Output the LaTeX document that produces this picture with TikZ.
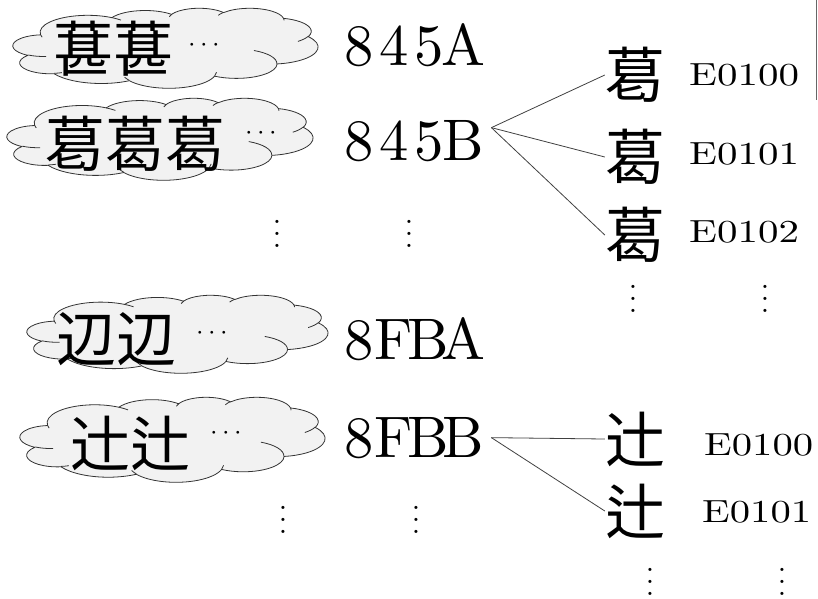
\documentclass[tikz,border=0pt]{standalone}
\usepackage{fontspec}
\usepackage{graphicx}
\newfontfamily\cjk{Noto Sans CJK JP}
\newfontfamily\lmten{lmroman10-regular.otf}
\newcommand{\cdotsx}[1]{\raisebox{#1}{\scalebox{2.7}{\fontsize{10}{12}\selectfont$\cdots$}}}
% fixed-width characters (the reference's Latin is near-monospaced)
\def\fixwidth{35pt}
\def\fw#1{\ifx#1\relax\else\makebox[\fixwidth][c]{#1}\expandafter\fw\fi}
\newcommand\fwtext[2]{{\def\fixwidth{#1}\fw#2\relax}}
% arc of the office cloud outline (visual angles converted to parametric)
\newcommand\oarc[4]{%
 \pgfextra{%
  \pgfmathparse{atan2((#1)*sin(#3),(#2)*cos(#3))}\xdef\oaS{\pgfmathresult}%
  \pgfmathparse{atan2((#1)*sin((#3)+(#4)),(#2)*cos((#3)+(#4)))}\xdef\oaE{\pgfmathresult}%
  \pgfmathparse{(#4)>0 ? (\oaE<\oaS ? \oaE+360 : \oaE) : (\oaE>\oaS ? \oaE-360 : \oaE)}\xdef\oaE{\pgfmathresult}%
 } arc[start angle=\oaS, end angle=\oaE, x radius=#1, y radius=#2]}
\newcommand\cloudoutline{(39,143.7)
 \oarc{67.53}{91.90}{-190.4875}{123.7805}
 \oarc{53.33}{72.67}{-144.1024}{89.9452}
 \oarc{43.65}{59.45}{-145.8079}{99.7230}
 \oarc{48.57}{65.95}{-130.9861}{117.2417}
 \oarc{53.33}{72.73}{-78.7089}{109.0269}
 \oarc{67.75}{92.20}{-46.2673}{130.2690}
 \oarc{57.85}{78.67}{0.6250}{114.0333}
 \oarc{67.52}{92.15}{22.4516}{115.1726}
 \oarc{77.20}{105.43}{66.2426}{75.7110}
 \oarc{43.60}{59.18}{-274.9421}{146.7356}
 \oarc{43.45}{59.45}{-246.8285}{152.5189} -- cycle}
\newcommand\cloudinner{
 (46.93,261.77) \oarc{43.45}{59.45}{86.7420}{26.4295}
 (69.28,348.99) \oarc{43.60}{59.18}{73.6105}{11.4475}
 (164.78,390.90) \oarc{67.52}{92.15}{137.6242}{14.0811}
 (288.27,347.51) \oarc{67.52}{92.15}{6.4533}{15.9984}
 (341.29,229.54) \oarc{57.85}{78.67}{-70.2924}{70.9174}
 (417.98,153.54) \oarc{53.33}{72.73}{30.3180}{27.7515}
 (383.24,54.26) \oarc{48.57}{65.95}{-13.7443}{14.8589}
 (290.78,39.52) \oarc{48.57}{65.95}{-149.1815}{18.1954}
 (221.41,47.20) \oarc{43.65}{59.45}{-163.4943}{17.6864}
 (140.00,51.92) \oarc{67.53}{91.90}{-66.7070}{12.3194}
 (41.27,157.89) \oarc{67.53}{91.90}{157.6544}{11.8582}}
\tikzset{
  cloudline/.style={draw=black!80, line width=0.8pt, line join=round},
  cloudfill/.style={cloudline, fill=black!5},
  cloudat/.style n args={4}{shift={(#1,#2)}, x=#3pt/432, y=-#4pt/432},
  cloudtxt/.style={anchor=base west, inner sep=0pt, font=\fontsize{60}{60}\cjk},
  hexlab/.style={anchor=base west, inner sep=0pt, font=\fontsize{58.6}{60}\lmten},
  kanji/.style={anchor=center, inner sep=0pt, font=\fontsize{60}{60}\cjk},
  varlab/.style={anchor=base west, inner sep=0pt, font=\fontsize{32}{34}\lmten},
  conn/.style={draw=black!75, line width=0.8pt},
  vd/.style={anchor=base, inner sep=0pt},
}
\begin{document}
\begin{tikzpicture}[x=1pt, y=-1pt]
\useasboundingbox (0,0) rectangle (818,598);
% clouds
\begin{scope}[cloudat={13}{8}{305}{80}]
  \path[cloudfill] \cloudoutline; \path[cloudline] \cloudinner;
\end{scope}
\begin{scope}[cloudat={7}{98}{306}{82}]
  \path[cloudfill] \cloudoutline; \path[cloudline] \cloudinner;
\end{scope}
\begin{scope}[cloudat={27}{295}{301}{78}]
  \path[cloudfill] \cloudoutline; \path[cloudline] \cloudinner;
\end{scope}
\begin{scope}[cloudat={20}{397}{305}{85}]
  \path[cloudfill] \cloudoutline; \path[cloudline] \cloudinner;
\end{scope}
\node[cloudtxt] (t1) at (53,71) {葚葚\hspace{15pt}\cdotsx{19.25pt}};
\node[cloudtxt] (t2) at (45,166) {葛^^^^^^0e0100葛^^^^^^0e0101葛^^^^^^0e0102\hspace{20pt}\cdotsx{26.25pt}};
\node[cloudtxt] (t3) at (56,361) {辺辺\hspace{20pt}\cdotsx{21.25pt}};
\node[cloudtxt] (t4) at (70,466) {辻^^^^^^0e0100辻^^^^^^0e0101\hspace{20pt}\cdotsx{26.25pt}};
% hex labels
\node[hexlab] (h1) at (341,65) {\fwtext{35pt}{845A}};
\node[hexlab] (h2) at (341,160) {\fwtext{35pt}{845B}};
\node[hexlab] (h3) at (341,359) {\fwtext{35pt}{8FBA}};
\node[hexlab] (h4) at (341,457) {\fwtext{35pt}{8FBB}};
% variants
\node[kanji] (k1) at (635,75) {葛^^^^^^0e0100};
\node[kanji] (k2) at (635,157) {葛^^^^^^0e0101};
\node[kanji] (k3) at (635,235) {葛^^^^^^0e0102};
\node[kanji] (k4) at (635,439) {辻^^^^^^0e0100};
\node[kanji] (k5) at (635,511) {辻^^^^^^0e0101};
\node[varlab] (v1) at (689,85) {\scalebox{1.28}[1]{E0100}};
\node[varlab] (v2) at (689,164) {\scalebox{1.28}[1]{E0101}};
\node[varlab] (v3) at (689,242) {\scalebox{1.28}[1]{E0102}};
\node[varlab] (v4) at (704,455) {\scalebox{1.27}[1]{E0100}};
\node[varlab] (v5) at (702,522) {\scalebox{1.27}[1]{E0101}};
% connectors
\draw[conn] ([xshift=10pt,yshift=13pt]h2.east) -- (k1.west);
\draw[conn] ([xshift=10pt,yshift=13pt]h2.east) -- (k2.west);
\draw[conn] ([xshift=10pt,yshift=13pt]h2.east) -- (k3.west);
\draw[conn] ([xshift=10pt]h4.east) -- (k4.west);
\draw[conn] ([xshift=10pt]h4.east) -- (k5.west);
% vertical dots
\node[vd] (d1) at (277,247.6) {\scalebox{3}{$\vdots$}};
\node[vd] (d2) at (409,247.6) {\scalebox{3}{$\vdots$}};
\node[vd] (d3) at (633,312.6) {\scalebox{3}{$\vdots$}};
\node[vd] (d4) at (765,312.6) {\scalebox{3}{$\vdots$}};
\node[vd] (d5) at (283,533.6) {\scalebox{3}{$\vdots$}};
\node[vd] (d6) at (416,533.6) {\scalebox{3}{$\vdots$}};
\node[vd] (d7) at (650,595.6) {\scalebox{3}{$\vdots$}};
\node[vd] (d8) at (782,595.6) {\scalebox{3}{$\vdots$}};
% edge line
\draw[black!60, line width=1pt] (816,0) -- (816,100);
\end{tikzpicture}
\end{document}
